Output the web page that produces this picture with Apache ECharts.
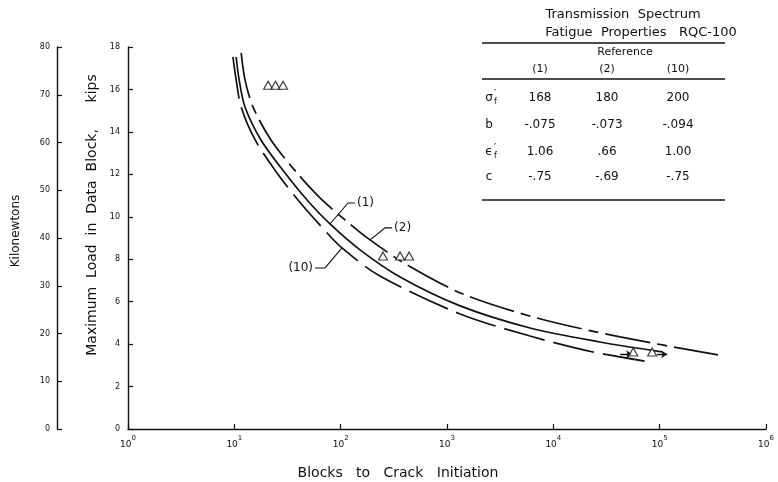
<!DOCTYPE html>
<html lang="en">
<head>
<meta charset="UTF-8">
<title>Transmission Spectrum</title>
<script src="https://cdn.jsdelivr.net/npm/echarts@6/dist/echarts.min.js"></script>
<style>
  html, body { margin: 0; padding: 0; background: #fff; }
  #chart { width: 778px; height: 482px; }
</style>
</head>
<body>
<div id="chart"></div>
<script>
// curves: blocks to crack initiation vs max load (kips)
const blocks1 = [10.4, 11.1, 12.6, 17.8, 30.0, 48.3, 79.4, 152, 362, 1330, 6040, 27500, 105000];
const kips1 = [17.53, 16.45, 15.17, 13.62, 12.06, 10.79, 9.66, 8.44, 7.16, 5.80, 4.76, 4.10, 3.63];
const blocks2 = [11.6, 12.6, 15.0, 22.1, 38.9, 63.9, 110, 189, 421, 1415, 7020, 42400, 354000];
const kips2 = [17.72, 16.45, 15.17, 13.62, 12.06, 10.89, 9.85, 8.91, 7.73, 6.36, 5.23, 4.34, 3.49];
const blocks10 = [9.7, 10.4, 11.6, 15.7, 25.2, 39.7, 63.9, 103, 234, 1330, 6040, 23600, 81200];
const kips10 = [17.53, 16.45, 15.17, 13.62, 12.06, 10.79, 9.61, 8.53, 7.21, 5.42, 4.38, 3.63, 3.16];

// test points (triangles)
const testBlocks = [20.8, 24.4, 28.7, 250, 362, 440, 56400, 85000];
const testKips = [16.2, 16.2, 16.2, 8.15, 8.15, 8.15, 3.63, 3.63];

// runout arrows [fromBlocks, toBlocks, kips]
const runouts = [[42500, 55100, 3.52], [94700, 117600, 3.52]];

// axes
const kipsTicks = { min: 0, max: 18, interval: 2 };
const knTicks = { min: 0, max: 80, interval: 10 };
const blockExps = { min: 0, max: 6 };

// table
const tableTitle = ['Transmission  Spectrum', 'Fatigue  Properties   RQC-100'];
const tableRefs = ['(1)', '(2)', '(10)'];
const tableRows = [
    ['σ', '168', '180', '200'],
    ['b', '-.075', '-.073', '-.094'],
    ['ϵ', '1.06', '.66', '1.00'],
    ['c', '-.75', '-.69', '-.75']
];

const FONT = 'DejaVu Sans';
const chart = echarts.init(document.getElementById('chart'));

function pairs(xs, ys) {
    return xs.map(function (x, i) { return [x, ys[i]]; });
}

const lineBase = {
    type: 'line',
    smooth: 0.3,
    showSymbol: false,
    silent: true
};

chart.setOption({
    animation: false,
    textStyle: { fontFamily: FONT, color: '#111' },
    grid: { left: 128, right: 12, top: 47, bottom: 53, outerBoundsMode: 'none', containLabel: false },
    xAxis: {
        type: 'log',
        logBase: 10,
        min: Math.pow(10, blockExps.min),
        max: Math.pow(10, blockExps.max),
        name: 'Blocks   to   Crack   Initiation',
        nameLocation: 'middle',
        nameGap: 37,
        nameTextStyle: { fontSize: 14, color: '#111', padding: [0, 98, 0, 0] },
        axisLine: { lineStyle: { color: '#111', width: 1.4 } },
        axisTick: { inside: true, length: 5, lineStyle: { color: '#111', width: 1.2 } },
        minorTick: { show: false },
        splitLine: { show: false },
        axisLabel: {
            margin: 6,
            formatter: function (v) {
                const e = Math.round(Math.log10(v));
                return '{b|10}{s|' + e + '}';
            },
            rich: {
                b: { fontSize: 9, color: '#111', verticalAlign: 'bottom', lineHeight: 14 },
                s: { fontSize: 7, color: '#111', verticalAlign: 'top', lineHeight: 14 }
            }
        }
    },
    yAxis: [
        {
            type: 'value',
            min: kipsTicks.min,
            max: kipsTicks.max,
            interval: kipsTicks.interval,
            position: 'left',
            name: 'Maximum  Load  in  Data  Block,      kips',
            nameLocation: 'middle',
            nameGap: 24,
            nameTextStyle: { fontSize: 14, color: '#111', padding: [0, 0, 0, 46] },
            axisLine: { show: true, lineStyle: { color: '#111', width: 1.4 } },
            axisTick: { show: true, inside: true, length: 5, lineStyle: { color: '#111', width: 1.2 } },
            splitLine: { show: false },
            axisLabel: { fontSize: 8, color: '#111', margin: 8 }
        },
        {
            type: 'value',
            min: knTicks.min,
            max: knTicks.max,
            interval: knTicks.interval,
            position: 'left',
            offset: 71,
            name: 'Kilonewtons',
            nameLocation: 'middle',
            nameGap: 35,
            nameTextStyle: { fontSize: 12, color: '#111', padding: [0, 0, 0, 14] },
            axisLine: { show: true, lineStyle: { color: '#111', width: 1.4 } },
            axisTick: { show: true, inside: true, length: 5, lineStyle: { color: '#111', width: 1.2 } },
            splitLine: { show: false },
            axisLabel: { fontSize: 8, color: '#111', margin: 7 }
        }
    ],
    series: [
        Object.assign({}, lineBase, {
            name: '(1)',
            data: pairs(blocks1, kips1),
            lineStyle: { color: '#111', width: 1.7, type: 'solid' }
        }),
        Object.assign({}, lineBase, {
            name: '(2)',
            data: pairs(blocks2, kips2),
            lineStyle: { color: '#111', width: 1.7, type: [46, 7, 10, 7] }
        }),
        Object.assign({}, lineBase, {
            name: '(10)',
            data: pairs(blocks10, kips10),
            lineStyle: { color: '#111', width: 1.7, type: [42, 9] }
        }),
        {
            type: 'scatter',
            data: pairs(testBlocks, testKips),
            symbol: 'triangle',
            symbolSize: [9, 8],
            itemStyle: { color: '#fff', borderColor: '#111', borderWidth: 1.2 },
            z: 5
        },
        {
            type: 'lines',
            coordinateSystem: 'cartesian2d',
            data: runouts.map(function (r) { return { coords: [[r[0], r[2]], [r[1], r[2]]] }; }),
            symbol: ['none', 'arrow'],
            symbolSize: 6,
            lineStyle: { color: '#111', width: 1.4, opacity: 1 },
            silent: true
        }
    ]
});

// curve labels with leader lines, anchored on curve points
const notes = [
    { text: '(1)', at: [blocks1[6], kips1[6]], bend: [18, -21], end: [25, -21], align: 'left' },
    { text: '(2)', at: [blocks2[7], kips2[7]], bend: [15, -12], end: [22, -12], align: 'left' },
    { text: '(10)', at: [blocks10[7], kips10[7]], bend: [-17, 20], end: [-27, 20], align: 'right' }
];

const graphics = [];
notes.forEach(function (n) {
    const p = chart.convertToPixel({ gridIndex: 0 }, n.at);
    graphics.push({
        type: 'polyline',
        shape: { points: [p, [p[0] + n.bend[0], p[1] + n.bend[1]], [p[0] + n.end[0], p[1] + n.end[1]]] },
        style: { stroke: '#111', lineWidth: 1.1, fill: null }
    });
    graphics.push({
        type: 'text',
        x: p[0] + n.end[0] + (n.align === 'left' ? 2 : -2),
        y: p[1] + n.end[1],
        style: { text: n.text, font: '12px ' + FONT, fill: '#111', align: n.align, verticalAlign: 'middle' }
    });
});

// properties table
const colX = [489, 540, 607, 678];
const rowY = [98, 125, 152, 177];
function tableText(x, y, text, size) {
    graphics.push({ type: 'text', x: x, y: y, style: { text: text, font: size + 'px ' + FONT, fill: '#111', align: 'center', verticalAlign: 'middle' } });
}
tableText(623, 15, tableTitle[0], 13);
tableText(641, 33, tableTitle[1], 13);
graphics.push({ type: 'line', shape: { x1: 482, y1: 43, x2: 725, y2: 43 }, style: { stroke: '#111', lineWidth: 1.3 } });
tableText(625, 52, 'Reference', 11);
tableRefs.forEach(function (t, i) {
    tableText(colX[i + 1], 69, t, 11);
});
graphics.push({ type: 'line', shape: { x1: 482, y1: 79, x2: 725, y2: 79 }, style: { stroke: '#111', lineWidth: 1.3 } });
tableRows.forEach(function (row, r) {
    row.forEach(function (cell, c) {
        tableText(colX[c], rowY[r], cell, 12);
    });
});
// primes and subscripts on the symbols
[0, 2].forEach(function (r) {
    graphics.push({ type: 'text', x: colX[0] + 5, y: rowY[r] - 4, style: { text: '′', font: '10px ' + FONT, fill: '#111', align: 'left', verticalAlign: 'middle' } });
    graphics.push({ type: 'text', x: colX[0] + 5, y: rowY[r] + 4, style: { text: 'f', font: '8px ' + FONT, fill: '#111', align: 'left', verticalAlign: 'middle' } });
});
graphics.push({ type: 'line', shape: { x1: 482, y1: 200, x2: 725, y2: 200 }, style: { stroke: '#111', lineWidth: 1.3 } });

chart.setOption({ graphic: { elements: graphics } });
</script>
</body>
</html>
